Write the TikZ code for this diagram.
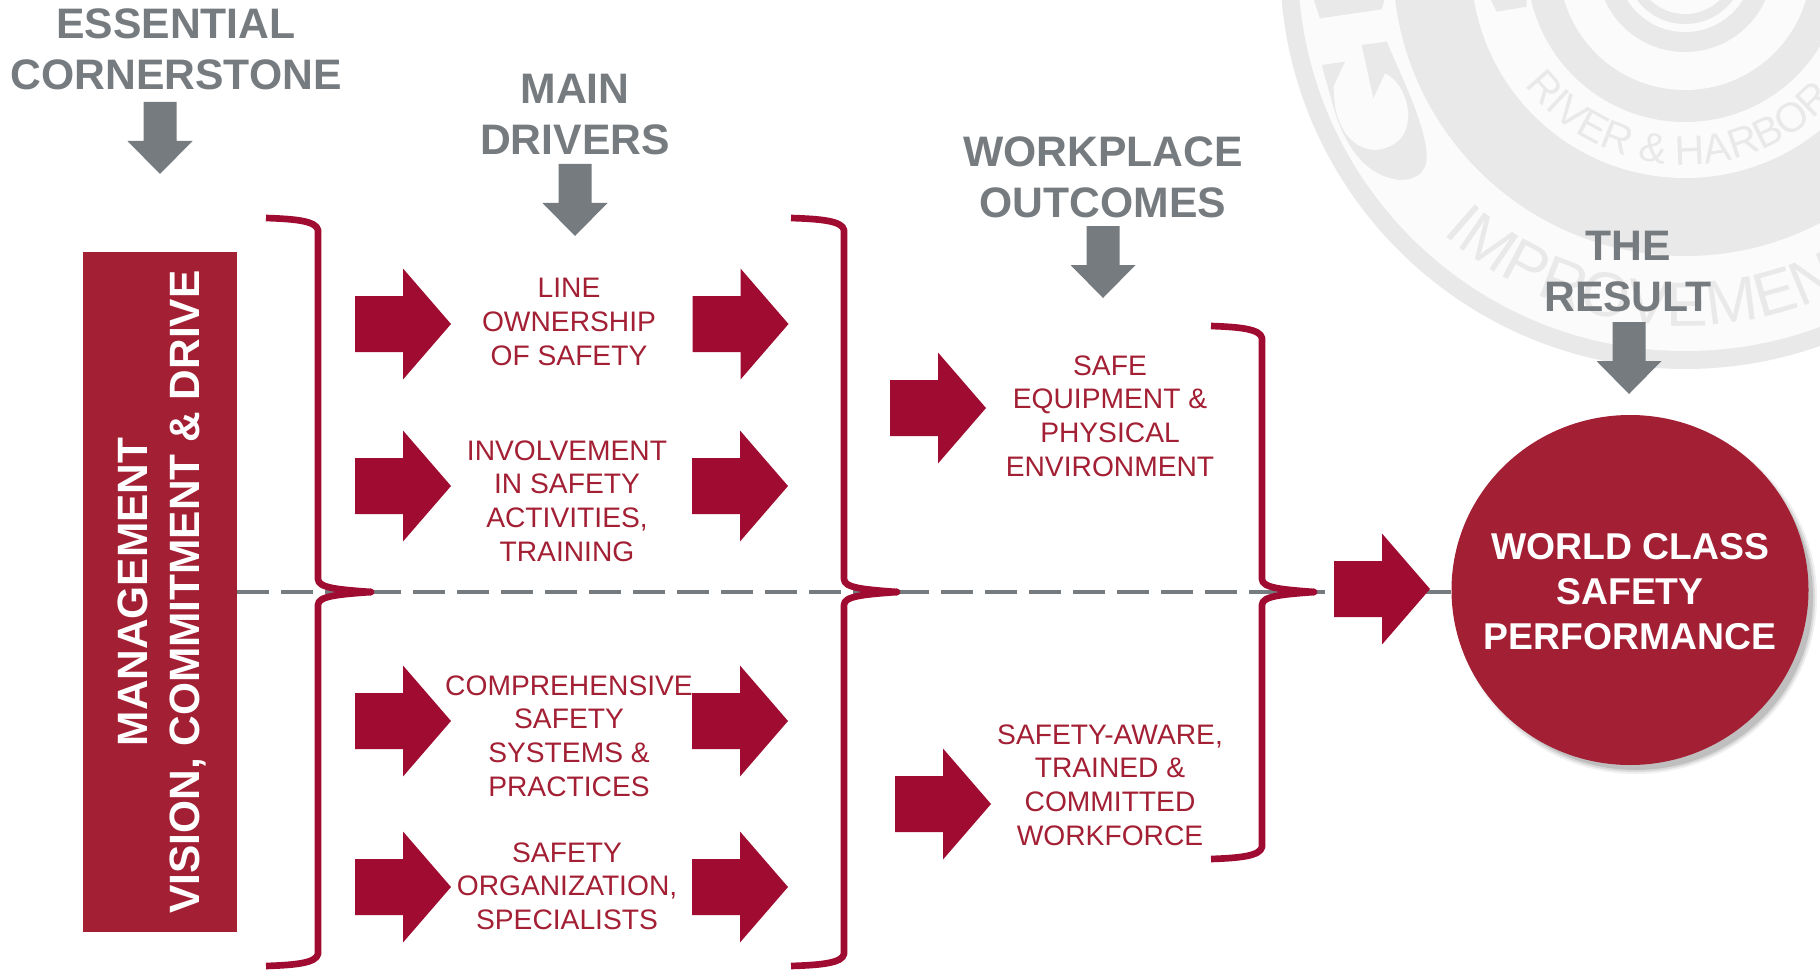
\documentclass[tikz,border=0pt]{standalone}
\usepackage{fontspec}
\setmainfont{Liberation Sans}
\usetikzlibrary{shapes.geometric,decorations.text}
\definecolor{boxred}{HTML}{A31F34}
\definecolor{arrowred}{HTML}{A00B31}
\definecolor{headgray}{HTML}{767B7F}
\definecolor{sealgray}{HTML}{E9E9E9}
\definecolor{sealpale}{HTML}{FBFBFB}
\tikzset{
  headtext/.style={text=headgray,font=\fontsize{32}{38.25}\selectfont\bfseries,align=center,inner sep=0pt},
  redtext/.style={text=boxred,font=\fontsize{21.15}{25.2}\selectfont,align=center,inner sep=0pt},
  whitecircle/.style={text=white,font=\fontsize{28}{33.75}\selectfont\bfseries,align=center,inner sep=0pt},
  whitebox/.style={text=white,font=\fontsize{31.8}{38.5}\selectfont\bfseries,align=center,inner sep=0pt},
  bracket/.style={draw=arrowred,line width=5pt,line cap=round,line join=round},
  dashline/.style={draw=headgray,line width=3pt,dash pattern=on 24pt off 9pt},
}
\newcommand{\redarrow}[2]{\fill[arrowred] (#1,{#2-28}) -- ++(48,0) -- ++(0,-27.5) -- ++(48,55.5) -- ++(-48,55.5) -- ++(0,-27.5) -- ++(-48,0) -- cycle;}
\newcommand{\grayarrow}[2]{\fill[headgray] ({#1-16.5},#2) -- ++(33,0) -- ++(0,39) -- ++(16,0) -- ++(-32.5,33) -- ++(-32.5,-33) -- ++(16,0) -- cycle;}
\newcommand{\bracketshape}[5]{%
  \draw[bracket,line cap=butt] (#1,#4) .. controls ({#2-22},{#4+1}) and ({#2-2},{#4+3}) .. (#2,{#4+12}) -- (#2,579)
     .. controls (#2,588) and ({#2+20},589.5) .. (#3,592);
  \draw[bracket,line cap=butt] (#1,#5) .. controls ({#2-22},{#5-1}) and ({#2-2},{#5-3}) .. (#2,{#5-12}) -- (#2,605)
     .. controls (#2,596) and ({#2+20},594.5) .. (#3,592);
  \fill[arrowred] (#3,592) circle[radius=3.4];}
\begin{document}
\begin{tikzpicture}[x=0.75pt,y=-0.75pt]
\useasboundingbox (0,0) rectangle (1820,970);
% seal
\begin{scope}
\clip (0,0) rectangle (1820,970);
\fill[sealgray] (1685,-36) circle[radius=405];
\fill[sealpale] (1685,-36) circle[radius=387];
\fill[sealgray] (1685,-36) circle[radius=292];
\fill[sealpale] (1685,-36) circle[radius=214];
\fill[sealgray] (1685,-36) circle[radius=158];
\fill[sealpale] (1685,-36) circle[radius=126];
\fill[sealgray] (1685,-36) circle[radius=88];
\fill[sealpale] (1685,-36) circle[radius=68];
\fill[sealgray] (1685,-36) circle[radius=60];
\fill[sealpale] (1685,-36) circle[radius=50];
\path[decorate,decoration={text along path,text={|\fontsize{47}{47}\selectfont\color{sealgray}|IMPROVEMENT}}]
  plot[domain=132:0,samples=80] ({1685+362*cos(\x)},{-36+362*sin(\x)});
\path[decorate,decoration={text along path,text={|\fontsize{31}{31}\selectfont\color{sealgray}|RIVER {\&} HARBOR}}]
  plot[domain=143:0,samples=80] ({1685+201*cos(\x)},{-36+201*sin(\x)});
\begin{scope}[shift={(1270,0)},x=0.25pt,y=-0.25pt]
  \fill[sealgray] (130,-5) -- (150,55) -- (335,28) -- (345,-5) -- cycle;
  \fill[sealgray] (660,-5) -- (680,35) -- (770,20) -- (770,-5) -- cycle;
  \fill[sealgray] (155,195) -- (225,185) -- (190,260) -- (195,320) .. controls (215,420) and (270,450) .. (320,450)
     .. controls (390,440) and (415,400) .. (415,340) .. controls (410,280) and (380,235) .. (345,220)
     -- (310,295) -- (275,135) -- (350,125) .. controls (390,220) and (470,380) .. (470,470)
     .. controls (470,530) and (420,540) .. (390,540) .. controls (300,530) and (230,460) .. (190,320) -- cycle;
\end{scope}
\end{scope}
% main shapes
\fill[black,opacity=0.06] (1636,597) ellipse[x radius=181,y radius=177];
\fill[black,opacity=0.09] (1636,597) ellipse[x radius=179,y radius=175];
\fill[black,opacity=0.12] (1636,597) ellipse[x radius=177,y radius=173];
\node[ellipse,fill=boxred,minimum width=267.75pt,minimum height=262.5pt,inner sep=0pt] (result) at (1630,590) {};
\node[fill=boxred,minimum width=115.5pt,minimum height=510pt,inner sep=0pt] (mgmt) at (160,592) {};
\draw[dashline] (mgmt.east) -- (mgmt.east -| result.west);
\bracketshape{266}{318}{371}{218}{966}
\bracketshape{791}{844}{897}{218}{966}
\bracketshape{1211}{1262}{1314}{326}{859}
% arrows
\redarrow{355}{324}\redarrow{355}{486}\redarrow{355}{721}\redarrow{355}{887}
\redarrow{692.5}{324}\redarrow{692}{486}\redarrow{692}{721}\redarrow{692}{887}
\redarrow{890}{408}\redarrow{895}{804}\redarrow{1334}{589}
\grayarrow{160}{102}\grayarrow{575}{164}\grayarrow{1103}{226}\grayarrow{1629}{322}
% text
\node[headtext] (h1) at (176,49) {ESSENTIAL\\CORNERSTONE};
\node[headtext] (h2) at (575,114.5) {MAIN\\DRIVERS};
\node[headtext] (h3) at (1103,177) {WORKPLACE\\OUTCOMES};
\node[headtext] (h4) at (1628,272) {THE\\RESULT};
\node[redtext] (t1) at (569,322) {LINE\\OWNERSHIP\\OF SAFETY};
\node[redtext] (t2) at (567,501) {INVOLVEMENT\\IN SAFETY\\ACTIVITIES,\\TRAINING};
\node[redtext] (t3) at (569,736) {COMPREHENSIVE\\SAFETY\\SYSTEMS \&\\PRACTICES};
\node[redtext] (t4) at (567,886) {SAFETY\\ORGANIZATION,\\SPECIALISTS};
\node[redtext] (t5) at (1110,416) {SAFE\\EQUIPMENT \&\\PHYSICAL\\ENVIRONMENT};
\node[redtext] (t6) at (1110,785) {SAFETY-AWARE,\\TRAINED \&\\COMMITTED\\WORKFORCE};
\node[whitecircle] (t7) at (1630,592) {WORLD CLASS\\SAFETY\\PERFORMANCE};
\node[whitebox,rotate=90] (t8) at (162,592) {MANAGEMENT\\VISION, COMMITMENT \& DRIVE};
\end{tikzpicture}
\end{document}
